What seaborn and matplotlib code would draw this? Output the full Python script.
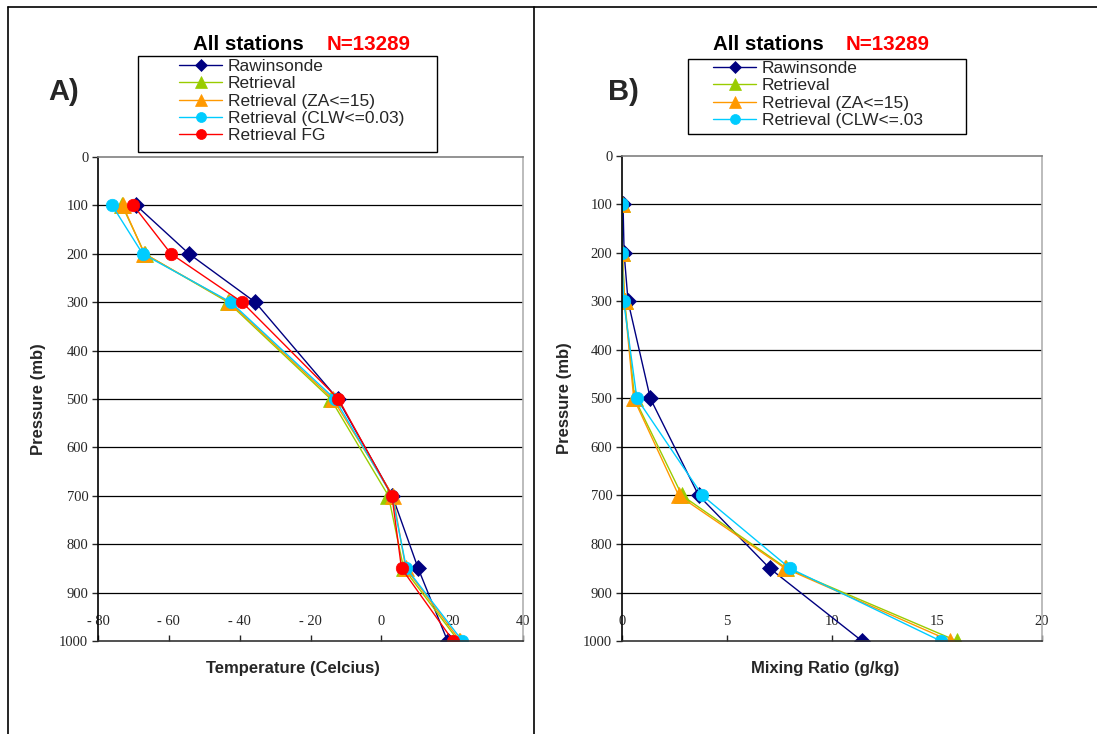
import matplotlib
matplotlib.use('Agg')
import matplotlib.pyplot as plt
import seaborn as sns
import pandas as pd
from matplotlib.lines import Line2D
from matplotlib.patches import Rectangle

sns.set_style('white')
plt.rcParams['font.family'] = ['Liberation Sans', 'DejaVu Sans']

# 气压层 (mb)
pressure = [100, 200, 300, 500, 700, 850, 1000]

# A) 温度
temp_raob = [-69.2, -54.3, -35.6, -12.3, 3.1, 10.4, 18.7]
temp_ret = [-73.2, -66.8, -43.3, -14.3, 2.0, 6.3, 21.8]
temp_za = [-73.0, -66.9, -42.9, -13.7, 3.3, 6.9, 22.3]
temp_clw = [-76.0, -67.4, -42.5, -13.1, 3.0, 7.1, 22.9]
temp_fg = [-70.0, -59.4, -39.3, -12.1, 3.0, 5.7, 20.3]

# B) 混合比
mix_raob = [0.05, 0.1, 0.29, 1.35, 3.65, 7.03, 11.43]
mix_ret = [0.0, 0.02, 0.13, 0.6, 2.86, 7.83, 15.95]
mix_za = [0.0, 0.02, 0.12, 0.56, 2.70, 7.76, 15.64]
mix_clw = [0.0, 0.0, 0.08, 0.71, 3.83, 7.99, 15.18]

names_a = ['Rawinsonde', 'Retrieval', 'Retrieval (ZA<=15)', 'Retrieval (CLW<=0.03)', 'Retrieval FG']
names_b = ['Rawinsonde', 'Retrieval', 'Retrieval (ZA<=15)', 'Retrieval (CLW<=.03']
xticks_a = [-80, -60, -40, -20, 0, 20, 40]
xticklabels_a = ['- 80', '- 60', '- 40', '- 20', '0', '20', '40']
xticks_b = [0, 5, 10, 15, 20]

colors = ['#000080', '#99CC00', '#FF9900', '#00CCFF', '#FF0000']
markers = ['D', '^', '^', 'o', 'o']
msizes = [8, 11, 11, 9, 9]

W, H = 1097, 734
fig = plt.figure(figsize=(W / 100, H / 100), dpi=100)

def fx(px):
    return px / W

def fy(py):
    return 1 - py / H

ax_a = fig.add_axes([fx(98), fy(641), fx(523 - 98), (641 - 157) / H])
ax_b = fig.add_axes([fx(622), fy(641), fx(1042 - 622), (641 - 156) / H])


def draw(ax, series, names):
    for vals, name, c, m, ms in zip(series, names, colors, markers, msizes):
        sns.lineplot(x=vals, y=pressure, ax=ax, sort=False, estimator=None,
                     color=c, marker=m, markersize=ms, markeredgecolor=c,
                     markeredgewidth=0.5, linewidth=1, label=name)
    handles, labels = ax.get_legend_handles_labels()
    if ax.get_legend() is not None:
        ax.get_legend().remove()
    return handles, labels


def style(ax, xlim, xticks, xticklabels, xlabel, label_x, xlabel_x):
    ax.set_ylim(1000, 0)
    ax.set_xlim(*xlim)
    ax.set_yticks(range(0, 1001, 100))
    ax.set_yticklabels([str(v) for v in range(0, 1001, 100)],
                       family='Liberation Serif', fontsize=10.5)
    ax.set_xticks(xticks)
    ax.set_xticklabels(xticklabels, family='Liberation Serif', fontsize=10.5)
    ax.tick_params(axis='y', direction='out', length=4, width=1, left=True, pad=3)
    ax.tick_params(axis='x', direction='in', length=4, width=1, bottom=True, pad=-19)
    for p in range(100, 1000, 100):
        ax.axhline(p, color='black', lw=0.9, zorder=0)
    ax.spines['left'].set_color('black')
    ax.spines['bottom'].set_color('#333333')
    ax.spines['top'].set_color('#808080')
    ax.spines['right'].set_color('#B0B0B0')
    for s in ax.spines.values():
        s.set_linewidth(1.2)
    ax.set_ylabel('Pressure (mb)', fontsize=12, fontweight='bold')
    ax.set_xlabel(xlabel, fontsize=12, fontweight='bold')
    ax.yaxis.set_label_coords(label_x, 0.5)
    ax.xaxis.set_label_coords(xlabel_x, -0.041)


h_a, l_a = draw(ax_a, [temp_raob, temp_ret, temp_za, temp_clw, temp_fg], names_a)
h_b, l_b = draw(ax_b, [mix_raob, mix_ret, mix_za, mix_clw], names_b)

style(ax_a, (-80, 40), xticks_a, xticklabels_a, 'Temperature (Celcius)', -0.122, 0.459)
style(ax_b, (0, 20), xticks_b, [str(v) for v in xticks_b], 'Mixing Ratio (g/kg)', -0.119, 0.483)

# 图例框
fig.add_artist(Rectangle((fx(138), fy(152)), fx(437 - 138), (152 - 56) / H,
                         transform=fig.transFigure, fill=False, edgecolor='black', lw=1))
fig.add_artist(Rectangle((fx(688), fy(134)), fx(966 - 688), (134 - 59) / H,
                         transform=fig.transFigure, fill=False, edgecolor='black', lw=1))

leg_kw = dict(loc='upper left', frameon=False, borderpad=0, borderaxespad=0,
              handlelength=2.5, handletextpad=0.3, labelspacing=0.12,
              fontsize=12.5, markerscale=0.8)
fig.legend(h_a, l_a, bbox_to_anchor=(fx(179), fy(59)), **leg_kw)
fig.legend(h_b, l_b, bbox_to_anchor=(fx(713), fy(61)), **leg_kw)

# 标题
for x_right, x_left in [(304, 327), (824, 846)]:
    fig.text(fx(x_right), fy(44), 'All stations', ha='right', va='center',
             fontsize=14.8, fontweight='bold', color='black')
    fig.text(fx(x_left), fy(44), 'N=13289', ha='left', va='center',
             fontsize=14.8, fontweight='bold', color='#FF0000')

fig.text(fx(48), fy(92), 'A)', ha='left', va='center', fontsize=21, fontweight='bold')
fig.text(fx(608), fy(92), 'B)', ha='left', va='center', fontsize=21, fontweight='bold')

# 外框
for xs, ys in [([fx(8), 1], [fy(7), fy(7)]),
               ([fx(8), fx(8)], [0, fy(7)]),
               ([fx(534), fx(534)], [0, fy(7)])]:
    fig.add_artist(Line2D(xs, ys, transform=fig.transFigure, color='black', lw=1.2))

fig.savefig('out.png', dpi=100)
